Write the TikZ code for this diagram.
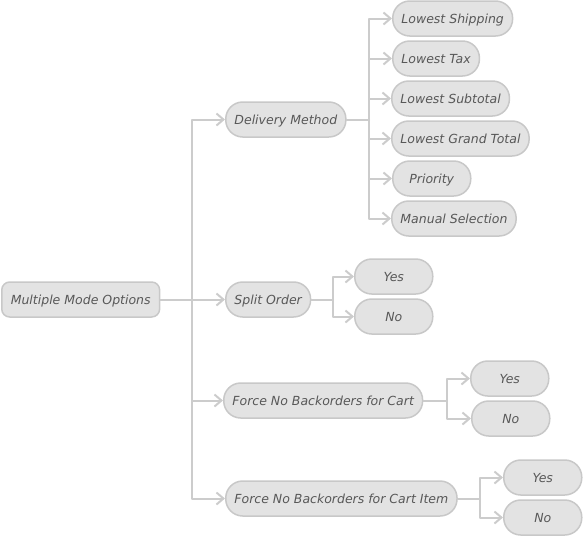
\documentclass[tikz,border=0pt]{standalone}
\usepackage{fontspec}
\setmainfont{DejaVu Sans}
\usetikzlibrary{arrows.meta}
\definecolor{boxfill}{HTML}{E3E3E3}
\definecolor{boxline}{HTML}{C8C8C8}
\definecolor{linegray}{HTML}{CCCCCC}
\definecolor{ink}{HTML}{585858}
\begin{document}
\begin{tikzpicture}[x=1pt,y=-1pt,line join=round,line cap=round,>={Straight Barb[length=7pt,width=12pt]},
	font=\fontsize{12.5}{14}\selectfont\itshape,
	opt/.style={draw=boxline,fill=boxfill,line width=1.5pt,text=ink,rounded corners=17pt,minimum height=35pt,minimum width=78pt,
		inner xsep=8.7pt,text height=9.1pt,text depth=0pt,anchor=west},
	wire/.style={draw=linegray,line width=2pt},
	link/.style={wire,->}]
	\useasboundingbox (0,0) rectangle (583,536);
	% nodes
	\node[opt,rounded corners=8pt,inner xsep=9pt] (mmo) at (1,299.5) {Multiple Mode Options};
	\node[opt] (dm) at (225,119.5) {Delivery Method};
	\node[opt] (so) at (225,299.5) {Split Order};
	\node[opt] (fc) at (223,400.5) {Force No Backorders for Cart};
	\node[opt] (fi) at (225,498.5) {Force No Backorders for Cart Item};
	\node[opt] (ship) at (392,18.5) {Lowest Shipping};
	\node[opt] (tax) at (392,58.5) {Lowest Tax};
	\node[opt] (sub) at (391,98.5) {Lowest Subtotal};
	\node[opt] (grand) at (391,138.5) {Lowest Grand Total};
	\node[opt] (prio) at (392,178.5) {Priority};
	\node[opt] (manual) at (391,218.5) {Manual Selection};
	\node[opt] (soy) at (354,276.5) {Yes};
	\node[opt] (son) at (354,316.5) {No};
	\node[opt] (fcy) at (470,378.5) {Yes};
	\node[opt] (fcn) at (471,418.5) {No};
	\node[opt] (fiy) at (503,477.5) {Yes};
	\node[opt] (fin) at (503,517.5) {No};
	% connectors
	\coordinate (j0) at (192,299.5);
	\coordinate (j1) at (369,119.5);
	\coordinate (j2) at (333,299.5);
	\coordinate (j3) at (447,400.5);
	\coordinate (j4) at (480,498.5);
	\draw[wire] (mmo) -- (j0);
	\draw[link] (j0) |- (dm); \draw[link] (j0) -- (so);
	\draw[link] (j0) |- (fc); \draw[link] (j0) |- (fi);
	\draw[wire] (dm) -- (j1);
	\draw[link] (j1) |- (ship); \draw[link] (j1) |- (tax); \draw[link] (j1) |- (sub);
	\draw[link] (j1) |- (grand); \draw[link] (j1) |- (prio); \draw[link] (j1) |- (manual);
	\draw[wire] (so) -- (j2);
	\draw[link] (j2) |- (soy); \draw[link] (j2) |- (son);
	\draw[wire] (fc) -- (j3);
	\draw[link] (j3) |- (fcy); \draw[link] (j3) |- (fcn);
	\draw[wire] (fi) -- (j4);
	\draw[link] (j4) |- (fiy); \draw[link] (j4) |- (fin);
\end{tikzpicture}
\end{document}
